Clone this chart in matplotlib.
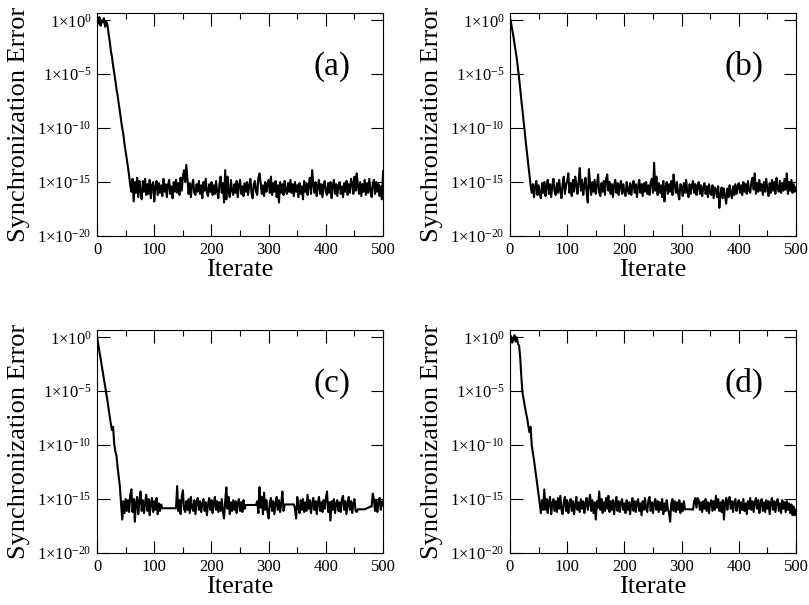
#!/usr/bin/env python3
"""
Synchronization error vs iterate, four panels (a)-(d)
"""
import numpy as np
import matplotlib
matplotlib.use("Agg")
import matplotlib.pyplot as plt
from matplotlib.ticker import MultipleLocator, NullLocator

plt.rcParams['font.family'] = ['Liberation Serif', 'DejaVu Serif']
plt.rcParams['mathtext.fontset'] = 'custom'
plt.rcParams['mathtext.rm'] = 'Liberation Serif'
plt.rcParams['mathtext.it'] = 'Liberation Serif:italic'

# iterate numbers (every second iterate)
iterate = np.arange(0, 501, 2)

# log10 of the synchronization error
log_err_a = [
    0.1, -0.3, 0.3, -0.5, 0.0, -0.2, 0.2, -0.6, -0.1, -0.4,
    -1.2, -1.9, -2.8, -3.4, -4.2, -4.9, -5.6, -6.4, -7.0, -7.8,
    -8.5, -9.3, -10.0, -10.6, -11.5, -12.2, -12.9, -13.6, -14.4, -15.3,
    -15.9, -14.7, -16.8, -15.0, -16.0, -14.6, -16.4, -14.9, -15.8, -16.6,
    -14.9, -15.9, -14.7, -16.2, -15.2, -16.1, -14.8, -16.5, -15.3, -15.0,
    -16.8, -15.4, -14.9, -16.2, -15.1, -16.0, -15.3, -16.3, -14.7, -15.9,
    -15.2, -16.4, -15.3, -14.8, -16.1, -15.4, -16.5, -15.0, -15.9, -14.8,
    -16.0, -15.1, -16.2, -14.6, -15.8, -14.5, -13.9, -15.0, -13.4, -14.8,
    -16.1, -15.1, -16.4, -15.3, -14.8, -16.0, -16.2, -15.2, -15.9, -14.9,
    -16.1, -15.3, -16.5, -15.0, -15.8, -14.7, -16.0, -16.3, -15.2, -15.9,
    -15.0, -16.2, -15.3, -16.1, -14.9, -15.9, -16.5, -15.2, -14.5, -16.0,
    -15.1, -16.9, -13.9, -16.6, -14.5, -15.9, -16.4, -14.8, -15.8, -16.2,
    -15.2, -16.0, -14.9, -16.4, -15.3, -14.8, -16.1, -15.4, -16.3, -15.1,
    -15.9, -15.0, -16.2, -15.3, -14.7, -16.0, -16.5, -15.2, -14.9, -15.9,
    -16.2, -14.6, -14.2, -15.1, -16.1, -15.3, -16.3, -15.0, -15.9, -15.2,
    -14.8, -16.0, -14.5, -16.2, -15.1, -15.9, -14.9, -16.4, -15.3, -16.9,
    -15.0, -16.0, -15.2, -16.2, -14.9, -15.8, -16.1, -15.1, -15.9, -14.8,
    -16.0, -15.2, -16.3, -15.0, -15.9, -15.3, -16.4, -15.1, -16.1, -15.4,
    -16.6, -14.9, -15.9, -15.1, -16.2, -15.3, -14.6, -16.1, -13.9, -15.2,
    -16.0, -15.0, -16.3, -15.4, -14.8, -16.1, -15.2, -16.4, -15.3, -14.9,
    -15.9, -16.2, -15.1, -16.0, -15.0, -16.5, -15.4, -14.8, -16.1, -15.2,
    -16.3, -15.3, -15.0, -16.1, -15.4, -16.4, -15.1, -15.9, -14.9, -16.2,
    -15.2, -16.0, -14.7, -15.1, -16.1, -14.5, -15.8, -14.2, -15.3, -16.1,
    -15.0, -16.3, -15.2, -15.9, -14.8, -16.2, -15.1, -16.0, -14.7, -15.8,
    -16.4, -15.2, -14.8, -16.1, -15.0, -15.9, -15.2, -16.3, -15.4, -16.6,
    -14.0,
]

log_err_b = [
    0.2, -0.3, -0.9, -1.5, -2.2, -2.9, -3.6, -4.5, -5.4, -6.4,
    -7.5, -8.4, -9.5, -10.4, -11.5, -12.4, -13.4, -14.3, -15.3, -16.0,
    -15.2, -16.4, -15.4, -14.9, -16.2, -15.3, -16.1, -16.5, -15.1, -16.0,
    -15.0, -16.3, -15.4, -14.8, -16.1, -15.2, -16.4, -15.3, -14.7, -15.9,
    -16.2, -15.1, -16.0, -14.8, -15.8, -16.5, -15.2, -14.5, -16.1, -15.3,
    -14.9, -14.2, -16.0, -15.1, -16.3, -14.8, -15.9, -14.5, -15.2, -16.1,
    -15.0, -13.7, -15.8, -14.8, -16.2, -15.3, -14.6, -16.0, -16.9, -13.8,
    -15.2, -16.2, -15.0, -15.9, -14.8, -16.1, -15.3, -14.3, -16.0, -16.3,
    -15.1, -15.9, -14.9, -16.2, -14.7, -14.3, -15.8, -15.0, -16.1, -15.2,
    -16.4, -15.3, -14.8, -16.0, -15.1, -16.2, -15.4, -14.9, -16.1, -15.2,
    -15.9, -16.3, -15.0, -15.8, -16.1, -15.1, -16.2, -15.3, -14.9, -16.0,
    -15.2, -16.4, -15.4, -14.8, -16.0, -15.2, -16.3, -15.1, -15.9, -15.0,
    -16.1, -15.3, -16.2, -15.0, -14.7, -16.0, -13.2, -15.8, -14.5, -16.2,
    -15.1, -16.0, -15.3, -16.4, -14.9, -16.8, -15.4, -15.0, -16.1, -15.2,
    -15.9, -14.9, -16.2, -14.3, -15.3, -16.0, -15.0, -16.1, -16.6, -15.2,
    -15.4, -16.3, -15.1, -16.0, -14.8, -15.9, -16.4, -15.2, -16.1, -15.3,
    -14.9, -16.0, -15.2, -16.2, -15.4, -15.0, -16.1, -15.3, -16.3, -15.5,
    -15.1, -16.1, -15.4, -16.4, -15.2, -16.0, -16.2, -15.3, -16.5, -15.5,
    -15.7, -16.4, -15.4, -17.4, -16.2, -15.5, -16.5, -15.6, -16.3, -17.0,
    -15.6, -16.4, -15.3, -16.1, -16.5, -15.4, -16.2, -15.2, -16.1, -15.4,
    -15.1, -16.0, -15.3, -16.2, -15.0, -15.9, -15.2, -16.1, -14.9, -15.8,
    -16.0, -15.0, -14.6, -15.7, -14.2, -16.1, -15.1, -15.9, -14.8, -15.8,
    -15.2, -16.2, -15.0, -15.9, -14.7, -15.7, -16.3, -15.1, -16.0, -14.8,
    -15.8, -15.0, -16.1, -14.6, -15.6, -15.9, -14.9, -16.0, -15.1, -15.8,
    -14.7, -15.7, -14.2, -16.1, -15.0, -15.8, -14.8, -16.0, -15.2, -15.9,
    -15.5,
]

log_err_c = [
    0.0, -0.6, -1.3, -1.9, -2.6, -3.2, -3.9, -4.5, -5.2, -5.8,
    -6.6, -7.3, -8.0, -8.6, -8.3, -9.9, -10.6, -11.0, -12.1, -13.0,
    -13.9, -15.5, -16.9, -15.2, -16.3, -15.0, -16.1, -15.1, -16.2, -14.6,
    -14.1, -16.2, -15.0, -17.1, -15.4, -14.8, -16.4, -15.2, -14.3, -16.1,
    -15.1, -16.3, -15.3, -14.6, -16.1, -15.0, -16.5, -15.4, -14.9, -16.2,
    -15.2, -16.0, -14.9, -16.4, -15.4, -16.1, -15.5, -15.85, -15.85, -15.85,
    -15.85, -15.85, -15.85, -15.85, -15.85, -15.85, -15.85, -15.85, -15.85, -15.85,
    -13.8, -16.1, -15.1, -16.4, -14.8, -14.2, -15.9, -16.2, -15.2, -16.0,
    -15.0, -16.3, -14.8, -15.8, -16.1, -15.1, -16.4, -15.3, -14.9, -16.0,
    -15.2, -16.2, -15.4, -15.0, -16.1, -15.3, -16.5, -15.5, -14.9, -16.0,
    -15.1, -16.3, -15.4, -14.8, -16.0, -15.2, -16.2, -15.3, -16.1, -15.0,
    -16.2, -16.8, -15.2, -13.9, -15.9, -14.8, -16.4, -15.3, -16.1, -15.1,
    -16.0, -15.2, -16.3, -15.4, -15.0, -16.1, -15.3, -16.2, -15.1, -15.9,
    -15.55, -15.55, -15.55, -15.55, -15.55, -15.55, -15.55, -15.55, -15.55, -15.55,
    -15.2, -16.3, -13.9, -15.8, -14.8, -16.4, -14.4, -16.0, -15.1, -16.2,
    -16.8, -15.3, -14.9, -16.1, -15.2, -16.4, -15.4, -14.8, -16.0, -15.1,
    -16.2, -15.4, -14.3, -16.1, -15.5, -15.5, -15.5, -15.5, -15.5, -15.5,
    -15.5, -15.5, -15.5, -15.9, -16.8, -14.8, -15.8, -16.3, -15.1, -16.0,
    -15.0, -16.2, -15.3, -16.1, -14.6, -15.9, -15.1, -16.3, -15.4, -14.9,
    -16.0, -15.2, -16.4, -15.4, -14.8, -16.1, -15.3, -16.2, -15.1, -15.9,
    -14.9, -14.3, -16.2, -15.3, -17.0, -15.2, -16.0, -15.0, -16.3, -15.4,
    -15.1, -16.1, -15.3, -16.2, -15.0, -14.7, -16.0, -15.2, -16.4, -15.4,
    -14.8, -16.0, -15.2, -16.3, -15.4, -15.0, -16.1, -16.2, -15.95, -15.95,
    -15.95, -15.95, -15.95, -15.95, -15.95, -15.9, -15.85, -15.8, -15.75, -15.7,
    -15.7, -14.5, -15.0, -16.1, -15.1, -16.2, -15.3, -14.9, -16.0, -15.2,
    -15.6,
]

log_err_d = [
    -0.3, 0.1, -0.5, -0.1, 0.2, -0.4, 0.0, -0.6, -0.8, -2.0,
    -3.8, -5.2, -5.8, -6.4, -7.0, -7.5, -8.2, -8.8, -8.3, -10.0,
    -10.7, -11.4, -12.2, -13.0, -13.8, -14.6, -15.4, -16.3, -15.1, -16.0,
    -14.1, -16.0, -15.0, -16.3, -15.3, -14.8, -16.4, -15.4, -15.0, -16.1,
    -15.2, -16.2, -14.9, -15.9, -14.7, -16.0, -16.4, -15.3, -14.8, -16.1,
    -15.1, -16.3, -15.4, -15.0, -16.1, -15.2, -16.4, -15.5, -14.8, -16.0,
    -15.3, -16.2, -15.0, -15.9, -15.2, -16.3, -15.4, -14.9, -16.0, -15.3,
    -14.6, -16.1, -15.1, -16.3, -15.3, -16.9, -15.2, -15.8, -14.3, -16.0,
    -15.0, -16.3, -15.3, -16.1, -14.9, -15.9, -14.7, -16.2, -15.2, -16.0,
    -15.1, -16.4, -15.4, -14.8, -16.1, -15.2, -16.2, -15.3, -15.0, -16.0,
    -15.4, -16.3, -15.1, -16.0, -15.3, -16.4, -15.5, -14.9, -16.1, -15.2,
    -16.2, -15.3, -15.0, -16.1, -15.4, -16.5, -15.2, -16.0, -14.9, -15.9,
    -16.2, -15.1, -14.8, -16.1, -15.3, -16.3, -15.4, -15.0, -16.0, -15.2,
    -16.2, -15.3, -16.0, -15.0, -16.4, -15.4, -16.1, -15.1, -15.9, -16.3,
    -17.1, -15.4, -15.0, -16.1, -15.2, -16.2, -15.3, -16.0, -15.1, -16.3,
    -15.4, -16.1, -15.2, -15.95, -15.95, -15.95, -15.95, -15.95, -15.95, -15.95,
    -16.0, -15.2, -14.9, -15.8, -14.9, -15.1, -16.0, -15.3, -16.2, -15.2,
    -15.9, -15.0, -16.1, -15.3, -16.3, -15.4, -15.1, -16.1, -15.2, -16.0,
    -14.7, -15.8, -15.0, -16.1, -15.3, -16.2, -15.1, -16.9, -15.4, -14.9,
    -16.0, -15.1, -14.8, -15.9, -15.2, -16.2, -15.3, -15.0, -16.1, -15.4,
    -15.1, -16.3, -15.3, -16.0, -15.0, -16.1, -15.4, -16.4, -15.2, -15.9,
    -14.9, -16.0, -15.2, -16.2, -15.3, -14.9, -15.9, -15.1, -16.3, -15.4,
    -15.0, -16.1, -15.3, -16.2, -15.1, -15.9, -15.2, -16.4, -15.4, -14.9,
    -16.0, -15.2, -16.2, -15.3, -15.0, -16.1, -15.4, -16.3, -15.1, -15.9,
    -15.3, -16.2, -15.2, -16.0, -15.4, -16.3, -15.5, -16.5, -15.7, -16.5,
    -16.0,
]

panel_labels = ['(a)', '(b)', '(c)', '(d)']
y_tick_exps = [0, -5, -10, -15, -20]
x_ticks = [0, 100, 200, 300, 400, 500]


def draw_panel(ax, log_err, label):
    """One panel: error on a log axis against iterate"""
    assert len(log_err) == len(iterate)
    err = 10.0 ** np.asarray(log_err)
    ax.plot(iterate, err, color='black', lw=1.5)

    ax.set_yscale('log')
    ax.set_xlim(0, 500)
    ax.set_ylim(1e-20, 10 ** 0.65)

    ax.set_xticks(x_ticks)
    ax.set_xticklabels([str(t) for t in x_ticks])
    ax.xaxis.set_minor_locator(MultipleLocator(50))
    ax.set_yticks([10.0 ** e for e in y_tick_exps])
    ax.set_yticklabels([r'$1{\times}10^{%d}$' % e for e in y_tick_exps])
    ax.yaxis.set_minor_locator(NullLocator())

    ax.tick_params(which='both', direction='in', top=True, right=True,
                   width=0.8, labelsize=12)
    ax.tick_params(which='major', length=9, pad=4)
    ax.tick_params(which='minor', length=4.5)
    for sp in ax.spines.values():
        sp.set_linewidth(0.8)

    ax.set_xlabel('Iterate', fontsize=19)
    ax.set_ylabel('Synchronization Error', fontsize=19)
    ax.xaxis.set_label_coords(0.5, -0.105)
    ax.yaxis.set_label_coords(-0.235, 0.5)
    ax.text(0.82, 0.76, label, transform=ax.transAxes, fontsize=24,
            ha='center', va='center')


def main():
    fig = plt.figure(figsize=(8.09, 6.05), dpi=100)
    w, h = 0.3535, 0.368
    positions = [
        (0.120, 0.610, w, h),
        (0.6304, 0.610, w, h),
        (0.120, 0.086, w, h),
        (0.6304, 0.086, w, h),
    ]
    series = [log_err_a, log_err_b, log_err_c, log_err_d]
    for pos, log_err, label in zip(positions, series, panel_labels):
        ax = fig.add_axes(pos)
        draw_panel(ax, log_err, label)

    fig.savefig('out.png', dpi=100)


if __name__ == "__main__":
    main()
